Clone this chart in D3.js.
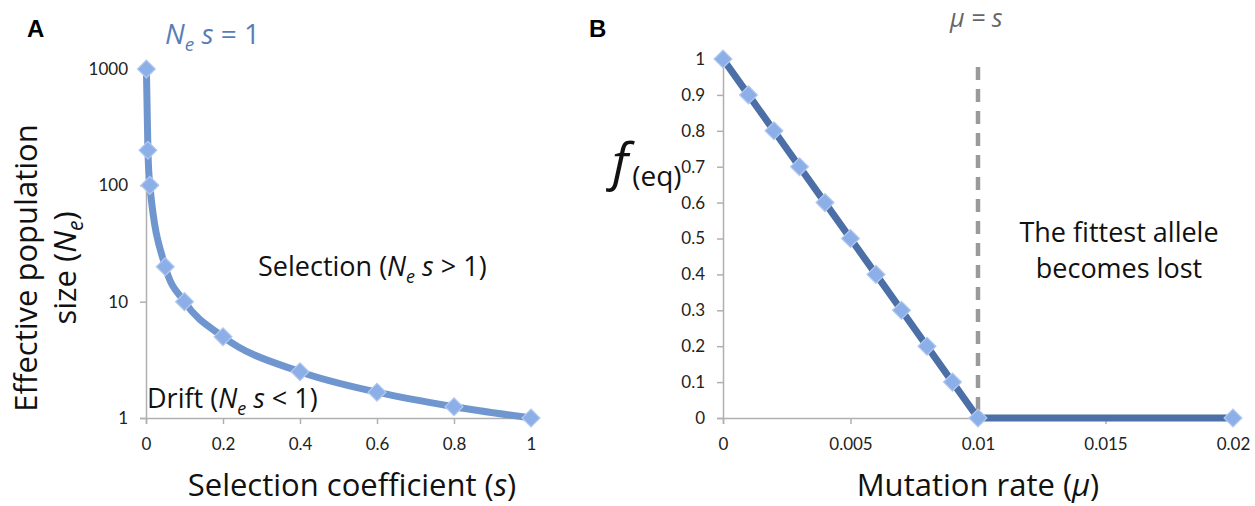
<!DOCTYPE html>
<html>
<head>
<meta charset="utf-8">
<script src="https://cdn.jsdelivr.net/npm/d3@7"></script>
<style>
  body { margin: 0; background: #fff; }
  svg { font-family: "Open Sans", Lato, sans-serif; }
</style>
</head>
<body>
<svg id="chart" width="1255" height="506"></svg>
<script>
// Panel A: Ne * s = 1
const sValues = [0.001, 0.005, 0.01, 0.05, 0.1, 0.2, 0.4, 0.6, 0.8, 1];
const neValues = [1000, 200, 100, 20, 10, 5, 2.5, 1.667, 1.25, 1];
const aXTicks = [0, 0.2, 0.4, 0.6, 0.8, 1];
const aYTicks = [1, 10, 100, 1000];

// Panel B: equilibrium frequency vs mutation rate
const muValues = [0, 0.001, 0.002, 0.003, 0.004, 0.005, 0.006, 0.007, 0.008, 0.009, 0.01, 0.02];
const fValues = [1, 0.9, 0.8, 0.7, 0.6, 0.5, 0.4, 0.3, 0.2, 0.1, 0, 0];
const bXTicks = [0, 0.005, 0.01, 0.015, 0.02];
const bYTicks = [0, 0.1, 0.2, 0.3, 0.4, 0.5, 0.6, 0.7, 0.8, 0.9, 1];
const muEqualsS = 0.01;

const svg = d3.select('#chart');

function styleAxis(g) {
  g.select('.domain').attr('stroke', '#b0b0b0').attr('stroke-width', 1.5);
  g.selectAll('.tick line').attr('stroke', '#b0b0b0').attr('stroke-width', 1.5);
  g.selectAll('.tick text')
    .attr('fill', '#222')
    .style('font-size', '17px')
    .style('font-family', 'Lato, sans-serif');
}

function diamonds(g, data, x, y) {
  g.selectAll('.pt')
    .data(data)
    .enter().append('path')
    .attr('class', 'pt')
    .attr('d', d3.symbol().type(d3.symbolSquare).size(160))
    .attr('transform', d => `translate(${x(d[0])},${y(d[1])}) rotate(45)`)
    .attr('fill', '#8cafe8')
    .attr('stroke', '#b3c9ef')
    .attr('stroke-width', 1.2);
}

// ---------- Panel A ----------
const xA = d3.scaleLinear().domain([0, 1]).range([146, 531]);
const yA = d3.scaleLog().domain([1, 1000]).range([418, 69]);

svg.append('g')
  .attr('transform', `translate(0,${yA(1)})`)
  .call(d3.axisBottom(xA).tickValues(aXTicks).tickFormat(d3.format('~g')).tickSizeOuter(0).tickSize(6).tickPadding(14))
  .call(styleAxis);

svg.append('g')
  .attr('transform', `translate(${xA(0)},0)`)
  .call(d3.axisLeft(yA).tickValues(aYTicks).tickFormat(d3.format('d')).tickSizeOuter(0).tickSize(6).tickPadding(12))
  .call(styleAxis);

const dataA = sValues.map((s, i) => [s, neValues[i]]);
const gA = svg.append('g');
gA.append('path')
  .datum(dataA)
  .attr('fill', 'none')
  .attr('stroke', '#7096cf')
  .attr('stroke-width', 7)
  .attr('stroke-linejoin', 'round')
  .attr('d', d3.line().x(d => xA(d[0])).y(d => yA(d[1])).curve(d3.curveMonotoneX));
diamonds(gA, dataA, xA, yA);

svg.append('text').attr('x', 27).attr('y', 37)
  .style('font-family', '"Liberation Sans", Arial, sans-serif')
  .style('font-weight', 'bold').style('font-size', '24px').text('A');

const neS = svg.append('text').attr('x', 165).attr('y', 44)
  .attr('fill', '#5a7db8').style('font-size', '28px');
neS.append('tspan').style('font-style', 'italic').text('N');
neS.append('tspan').style('font-style', 'italic').style('font-size', '19px').attr('dy', 7).text('e');
neS.append('tspan').attr('dy', -7).text(' ');
neS.append('tspan').style('font-style', 'italic').text('s');
neS.append('tspan').text(' = 1');

function regionLabel(x, y, word, op) {
  const t = svg.append('text').attr('x', x).attr('y', y)
    .attr('fill', '#111').style('font-size', '27px');
  t.append('tspan').text(word + ' (');
  t.append('tspan').style('font-style', 'italic').text('N');
  t.append('tspan').style('font-style', 'italic').style('font-size', '18px').attr('dy', 7).text('e');
  t.append('tspan').attr('dy', -7).text(' ');
  t.append('tspan').style('font-style', 'italic').text('s');
  t.append('tspan').text(` ${op} 1)`);
}
regionLabel(258, 276, 'Selection', '>');
regionLabel(147, 408, 'Drift', '<');

const yTitleA = svg.append('text')
  .attr('transform', 'translate(37,268) rotate(-90)')
  .attr('text-anchor', 'middle').attr('fill', '#111').style('font-size', '31px');
yTitleA.append('tspan').attr('x', 0).attr('y', 0).text('Effective population');
const l2 = yTitleA.append('tspan').attr('x', 0).attr('y', 39);
l2.append('tspan').text('size (');
l2.append('tspan').style('font-style', 'italic').text('N');
l2.append('tspan').style('font-style', 'italic').style('font-size', '21px').attr('dy', 7).text('e');
l2.append('tspan').attr('dy', -7).text(')');

const xTitleA = svg.append('text').attr('x', 352).attr('y', 496)
  .attr('text-anchor', 'middle').attr('fill', '#111').style('font-size', '31px');
xTitleA.append('tspan').text('Selection coefficient (');
xTitleA.append('tspan').style('font-style', 'italic').text('s');
xTitleA.append('tspan').text(')');

// ---------- Panel B ----------
const xB = d3.scaleLinear().domain([0, 0.02]).range([723, 1233]);
const yB = d3.scaleLinear().domain([0, 1]).range([418, 59]);

svg.append('g')
  .attr('transform', `translate(0,${yB(0)})`)
  .call(d3.axisBottom(xB).tickValues(bXTicks).tickFormat(d3.format('~g')).tickSizeOuter(0).tickSize(6).tickPadding(14))
  .call(styleAxis);

svg.append('g')
  .attr('transform', `translate(${xB(0)},0)`)
  .call(d3.axisLeft(yB).tickValues(bYTicks).tickFormat(d3.format('~g')).tickSizeOuter(0).tickSize(6).tickPadding(12))
  .call(styleAxis);

// mu = s dashed line
svg.append('line')
  .attr('x1', xB(muEqualsS)).attr('x2', xB(muEqualsS))
  .attr('y1', 67).attr('y2', yB(0))
  .attr('stroke', '#9a9a9a').attr('stroke-width', 4.5)
  .attr('stroke-dasharray', '13,9');

const dataB = muValues.map((m, i) => [m, fValues[i]]);
const gB = svg.append('g');
gB.append('path')
  .datum(dataB)
  .attr('fill', 'none')
  .attr('stroke', '#4b6fa6')
  .attr('stroke-width', 7)
  .attr('stroke-linejoin', 'round')
  .attr('d', d3.line().x(d => xB(d[0])).y(d => yB(d[1])));
diamonds(gB, dataB, xB, yB);

svg.append('text').attr('x', 589).attr('y', 37)
  .style('font-family', '"Liberation Sans", Arial, sans-serif')
  .style('font-weight', 'bold').style('font-size', '24px').text('B');

svg.append('text').attr('x', 950).attr('y', 27)
  .attr('fill', '#666').style('font-size', '25px')
  .style('font-style', 'italic')
  .text('μ = s');

const lost = svg.append('text').attr('text-anchor', 'middle')
  .attr('fill', '#111').style('font-size', '27px');
lost.append('tspan').attr('x', 1119).attr('y', 242).text('The fittest allele');
lost.append('tspan').attr('x', 1119).attr('y', 278).text('becomes lost');

const fTitle = svg.append('text').attr('x', 612).attr('y', 180).attr('fill', '#111');
fTitle.append('tspan').style('font-style', 'italic').style('font-size', '52px').text('f');
fTitle.append('tspan').style('font-size', '28px').attr('dy', 6).attr('dx', 4).text('(eq)');

const xTitleB = svg.append('text').attr('x', 978).attr('y', 496)
  .attr('text-anchor', 'middle').attr('fill', '#111').style('font-size', '31px');
xTitleB.append('tspan').text('Mutation rate (');
xTitleB.append('tspan').style('font-style', 'italic').text('μ');
xTitleB.append('tspan').text(')');
</script>
</body>
</html>
